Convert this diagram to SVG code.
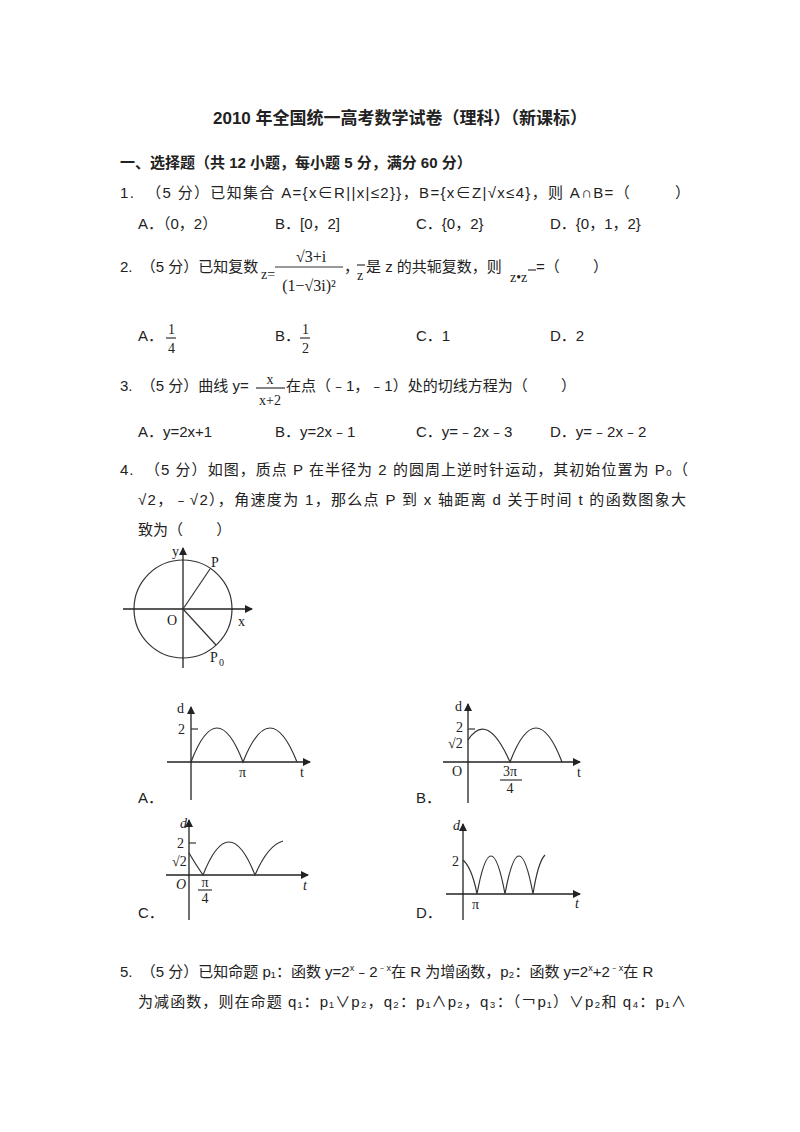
<svg xmlns="http://www.w3.org/2000/svg" width="800" height="1132" viewBox="0 0 800 1132">
<style>
text{font-family:"Liberation Sans","Noto Sans CJK SC",sans-serif;font-size:15px;fill:#222;white-space:pre}
.s{font-family:"Liberation Serif","Noto Sans CJK SC",serif;font-size:14px}
.i{font-style:italic}
.ln{stroke:#333;stroke-width:1.2;fill:none}
.ax{stroke:#222;stroke-width:1.3;fill:none}
</style>
<defs><marker id="ar" markerWidth="8" markerHeight="8" refX="7" refY="4" orient="auto" markerUnits="userSpaceOnUse"><path d="M0,0 L8,4 L0,8 Z" fill="#222"/></marker></defs>
<rect width="800" height="1132" fill="#fff"/>
<text x="400" y="124" text-anchor="middle" style="font-size:17px;font-weight:bold">2010 年全国统一高考数学试卷（理科）（新课标）</text>
<text x="120" y="168" style="font-weight:bold">一、选择题（共 12 小题，每小题 5 分，满分 60 分）</text>
<text x="120" y="198" textLength="570" lengthAdjust="spacing">1.  （5 分）已知集合 A={x∈R||x|≤2}}，B={x∈Z|√x≤4}，则 A∩B=（&#160;&#160;&#160;&#160;&#160;&#160;&#160;&#160;）</text>
<text x="138" y="229">A．（0，2）</text><text x="275" y="229">B．[0，2]</text><text x="416" y="229">C．{0，2}</text><text x="550" y="229">D．{0，1，2}</text>
<text x="120" y="272">2.  （5 分）已知复数</text>
<text x="261" y="279" class="s">z=</text>
<text x="311" y="262" class="s" text-anchor="middle" style="font-size:16px">√3+i</text>
<line x1="275" y1="267" x2="343" y2="267" class="ln"/>
<text x="309" y="291" class="s" text-anchor="middle" style="font-size:16px">(1−√3i)²</text>
<text x="344" y="272">，</text>
<line x1="357" y1="265" x2="365" y2="265" class="ln"/>
<text x="357" y="280" class="s">z</text>
<text x="366" y="272">是 z 的共轭复数，则</text>
<text x="510" y="282" class="s">z•z</text>
<line x1="528" y1="270" x2="536" y2="270" class="ln"/>
<text x="536" y="272">=（&#160;&#160;&#160;&#160;&#160;&#160;&#160;&#160;）</text>
<text x="138" y="341">A．</text><text x="168" y="334" class="s">1</text><line x1="166" y1="338" x2="176" y2="338" class="ln"/><text x="168" y="353" class="s">4</text>
<text x="275" y="341">B．</text><text x="302" y="334" class="s">1</text><line x1="300" y1="338" x2="310" y2="338" class="ln"/><text x="302" y="353" class="s">2</text>
<text x="416" y="341">C．1</text><text x="550" y="341">D．2</text>
<text x="120" y="391">3.  （5 分）曲线 y=</text>
<text x="270" y="384" class="s" text-anchor="middle">x</text>
<line x1="256" y1="388" x2="285" y2="388" class="ln"/>
<text x="270" y="405" class="s" text-anchor="middle">x+2</text>
<text x="286" y="391">在点（﹣1，﹣1）处的切线方程为（&#160;&#160;&#160;&#160;&#160;&#160;&#160;&#160;）</text>
<text x="138" y="437">A．y=2x+1</text><text x="275" y="437">B．y=2x﹣1</text><text x="416" y="437">C．y=﹣2x﹣3</text><text x="550" y="437">D．y=﹣2x﹣2</text>
<text x="120" y="475" textLength="568" lengthAdjust="spacing">4.  （5 分）如图，质点 P 在半径为 2 的圆周上逆时针运动，其初始位置为 P₀（</text>
<text x="138" y="505" textLength="548" lengthAdjust="spacing">√2，﹣√2），角速度为 1，那么点 P 到 x 轴距离 d 关于时间 t 的函数图象大</text>
<text x="138" y="535">致为（&#160;&#160;&#160;&#160;&#160;&#160;&#160;&#160;）</text>

<g id="circle">
<circle cx="183" cy="609" r="49" class="ln"/>
<line x1="123" y1="609" x2="252" y2="609" class="ax" marker-end="url(#ar)"/>
<line x1="183" y1="668" x2="183" y2="548" class="ax" marker-end="url(#ar)"/>
<line x1="183" y1="609" x2="210" y2="569" class="ln"/>
<line x1="183" y1="609" x2="216" y2="645" class="ln"/>
<text x="172" y="556" class="s">y</text><text x="211" y="567" class="s">P</text>
<text x="167" y="625" class="s">O</text><text x="238" y="626" class="s">x</text>
<text x="210" y="662" class="s">P</text><text x="219" y="666" class="s" style="font-size:10px">0</text>
</g>

<g id="graphA">
<line x1="191" y1="800" x2="191" y2="707" class="ax" marker-end="url(#ar)"/>
<line x1="167" y1="762" x2="310" y2="762" class="ax" marker-end="url(#ar)"/>
<path d="M191,762 Q217,694 243,762 Q270,694 297,762" class="ln"/>
<line x1="191" y1="729" x2="198" y2="729" class="ln"/>
<text x="177" y="713" class="s">d</text><text x="178" y="734" class="s">2</text>
<text x="239" y="777" class="s">π</text><text x="300" y="777" class="s">t</text>
<text x="138" y="803">A．</text>
</g>

<g id="graphB">
<line x1="468" y1="803" x2="468" y2="704" class="ax" marker-end="url(#ar)"/>
<line x1="443" y1="762" x2="580" y2="762" class="ax" marker-end="url(#ar)"/>
<path d="M468,740 Q487,710 510,762 Q536,694 562,762" class="ln"/>
<line x1="468" y1="729" x2="475" y2="729" class="ln"/>
<text x="455" y="711" class="s">d</text><text x="456" y="732" class="s">2</text>
<text x="448" y="748" class="s">√2</text><text x="452" y="776" class="s">O</text>
<text x="510" y="776" class="s" text-anchor="middle">3π</text>
<line x1="500" y1="780" x2="522" y2="780" class="ln"/>
<text x="510" y="793" class="s" text-anchor="middle">4</text>
<text x="577" y="777" class="s">t</text>
<text x="416" y="803">B．</text>
</g>

<g id="graphC">
<line x1="189" y1="920" x2="189" y2="820" class="ax" marker-end="url(#ar)"/>
<line x1="166" y1="875" x2="308" y2="875" class="ax" marker-end="url(#ar)"/>
<path d="M189,853 Q196,865 203,875 Q229,809 255,875 Q268,845 283,841" class="ln"/>
<line x1="189" y1="843" x2="196" y2="843" class="ln"/>
<text x="180" y="828" class="s i">d</text><text x="177" y="848" class="s">2</text>
<text x="172" y="866" class="s">√2</text><text x="176" y="889" class="s i">O</text>
<text x="205" y="887" class="s" text-anchor="middle">π</text>
<line x1="198" y1="890" x2="212" y2="890" class="ln"/>
<text x="205" y="903" class="s" text-anchor="middle">4</text>
<text x="303" y="890" class="s i">t</text>
<text x="138" y="918">C．</text>
</g>

<g id="graphD">
<line x1="463" y1="920" x2="463" y2="824" class="ax" marker-end="url(#ar)"/>
<line x1="446" y1="894" x2="580" y2="894" class="ax" marker-end="url(#ar)"/>
<path d="M463,860 Q472,868 477,894 Q491,818 505,894 Q519,818 533,894 Q538,862 545,855" class="ln"/>
<text x="453" y="830" class="s i">d</text><text x="452" y="866" class="s">2</text>
<text x="472" y="909" class="s">π</text><text x="575" y="908" class="s i">t</text>
<text x="416" y="918">D．</text>
</g>

<text x="120" y="977">5.  （5 分）已知命题 p₁：函数 y=2<tspan dy="-6" style="font-size:9px">x</tspan><tspan dy="6">﹣2</tspan><tspan dy="-6" style="font-size:9px">﹣x</tspan><tspan dy="6">在 R 为增函数，p₂：函数 y=2</tspan><tspan dy="-6" style="font-size:9px">x</tspan><tspan dy="6">+2</tspan><tspan dy="-6" style="font-size:9px">﹣x</tspan><tspan dy="6">在 R</tspan></text>
<text x="138" y="1007" textLength="548" lengthAdjust="spacing">为减函数，则在命题 q₁：p₁∨p₂，q₂：p₁∧p₂，q₃：（￢p₁）∨p₂和 q₄：p₁∧</text>
</svg>
